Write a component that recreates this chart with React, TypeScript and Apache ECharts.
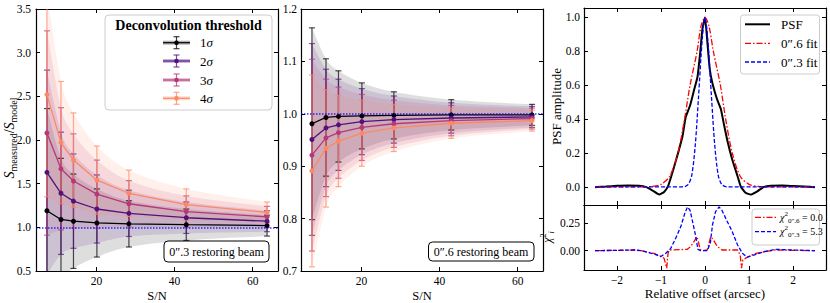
import React, { useEffect, useRef } from "react";
import * as echarts from "echarts";

const FONT = "'Liberation Serif', 'Times New Roman', serif";

// ---- Data: flux ratio vs S/N ----
const SN = [7.3, 10.9, 14.1, 20.1, 28.3, 43.0, 63.7];
const THRESHOLDS = ["1", "2", "3", "4"];
const COLORS = ["#000004", "#51127c", "#b73779", "#fc8961"];

// 0.3" restoring beam (left panel)
const LEFT_1 = [1.19, 1.09, 1.07, 1.05, 1.04, 1.03, 1.02];
const LEFT_2 = [1.63, 1.39, 1.3, 1.21, 1.16, 1.11, 1.07];
const LEFT_3 = [2.08, 1.67, 1.53, 1.38, 1.27, 1.18, 1.12];
const LEFT_4 = [2.52, 1.97, 1.77, 1.54, 1.39, 1.26, 1.17];
const LEFT_ERR = [1.17, 0.7, 0.54, 0.39, 0.265, 0.18, 0.12];

// 0.6" restoring beam (middle panel)
const MID_1 = [0.981, 0.993, 0.995, 0.996, 0.997, 0.998, 0.998];
const MID_2 = [0.951, 0.973, 0.979, 0.985, 0.989, 0.992, 0.994];
const MID_3 = [0.921, 0.954, 0.964, 0.974, 0.981, 0.987, 0.991];
const MID_4 = [0.891, 0.934, 0.948, 0.963, 0.973, 0.982, 0.987];
const MID_ERR = [0.183, 0.112, 0.087, 0.063, 0.045, 0.029, 0.02];

// ---- PSF profile (right top) ----
const PSF_X = [-2.5, -2.25, -2.0, -1.75, -1.5, -1.35, -1.2, -1.04, -0.93, -0.84, -0.77, -0.7, -0.59, -0.51, -0.44, -0.34, -0.25, -0.17, -0.11, -0.06, 0.0, 0.055, 0.11, 0.17, 0.27, 0.36, 0.43, 0.52, 0.62, 0.74, 0.81, 0.92, 1.04, 1.19, 1.34, 1.5, 1.75, 2.0, 2.25, 2.5];
const PSF_Y = [-0.002, 0.002, 0.006, 0.008, 0.006, 0.0, -0.02, -0.045, -0.03, 0.004, 0.06, 0.12, 0.22, 0.3, 0.41, 0.48, 0.57, 0.65, 0.79, 0.93, 1.0, 0.85, 0.69, 0.61, 0.52, 0.46, 0.37, 0.26, 0.16, 0.063, 0.004, -0.035, -0.045, -0.026, 0.0, 0.007, 0.008, 0.005, 0.002, -0.002];

const FIT06_X = [-2.5, -1.5, -1.2, -1.0, -0.8, -0.615, -0.465, -0.34, -0.18, -0.09, 0.0, 0.09, 0.19, 0.35, 0.47, 0.62, 0.8, 1.0, 1.2, 1.5, 2.5];
const FIT06_Y = [0, 0, 0.003, 0.015, 0.063, 0.2, 0.4, 0.6, 0.8, 0.95, 1.0, 0.95, 0.8, 0.6, 0.4, 0.2, 0.063, 0.015, 0.003, 0, 0];

const FIT03_X = [-2.5, -1.5, -0.8, -0.5, -0.38, -0.3, -0.22, -0.15, -0.06, 0.0, 0.06, 0.15, 0.22, 0.3, 0.38, 0.5, 0.8, 1.5, 2.5];
const FIT03_Y = [0, 0, 0, 0, 0.015, 0.07, 0.25, 0.52, 0.88, 1.0, 0.88, 0.52, 0.25, 0.07, 0.015, 0, 0, 0, 0];

// ---- chi^2 residuals (right bottom) ----
const CHI06_X = [-2.5, -2.0, -1.6, -1.46, -1.16, -1.01, -0.93, -0.87, -0.84, -0.81, -0.4, -0.33, -0.25, -0.19, -0.16, -0.11, -0.06, 0.05, 0.09, 0.13, 0.19, 0.28, 0.39, 0.74, 0.8, 0.83, 0.86, 0.96, 1.11, 1.34, 1.6, 2.0, 2.5];
const CHI06_Y = [0, 0.003, 0.006, 0.0, -0.025, -0.05, -0.07, -0.16, -0.024, 0.006, 0.012, 0.037, 0.082, 0.128, 0.1, 0.012, 0.0, 0.006, 0.067, 0.128, 0.1, 0.037, 0.006, 0.006, -0.04, -0.16, -0.085, -0.06, -0.03, -0.01, 0.006, 0.003, 0];

const CHI03_X = [-2.5, -2.0, -1.6, -1.46, -1.3, -1.16, -1.01, -0.89, -0.78, -0.67, -0.55, -0.46, -0.4, -0.34, -0.29, -0.21, -0.16, -0.1, 0.05, 0.12, 0.17, 0.24, 0.32, 0.39, 0.49, 0.62, 0.74, 0.85, 0.96, 1.11, 1.34, 1.6, 2.0, 2.5];
const CHI03_Y = [0, 0.003, 0.006, 0.0, -0.015, -0.03, -0.055, -0.024, 0.02, 0.11, 0.22, 0.34, 0.4, 0.37, 0.28, 0.13, 0.012, 0.0, 0.0, 0.067, 0.235, 0.357, 0.4, 0.366, 0.28, 0.174, 0.052, -0.024, -0.06, -0.04, -0.01, 0.012, 0.006, 0];

// ---- Tick labels ----
const SN_TICKS = [20, 40, 60];
const LEFT_Y_TICKS = [0.5, 1.0, 1.5, 2.0, 2.5, 3.0, 3.5];
const MID_Y_TICKS = [0.7, 0.8, 0.9, 1.0, 1.1, 1.2];
const OFFSET_TICKS = [-2, -1, 0, 1, 2];
const PSF_TICKS = [0, 0.2, 0.4, 0.6, 0.8, 1.0];
const CHI_TICKS = [0, 0.25];

const zip = (xs: number[], ys: number[]) => xs.map((x, i) => [x, ys[i]]);
const minus = (v: number) => (v < 0 ? "\u2212" + Math.abs(v) : String(v));

// Catmull-Rom smoothing in pixel space (rendering only)
function spline(pts: number[][], segs = 10): number[][] {
  const out: number[][] = [];
  const n = pts.length;
  for (let i = 0; i < n - 1; i++) {
    const p0 = pts[Math.max(i - 1, 0)];
    const p1 = pts[i];
    const p2 = pts[i + 1];
    const p3 = pts[Math.min(i + 2, n - 1)];
    const m1 = [(p2[0] - p0[0]) / 2, (p2[1] - p0[1]) / 2];
    const m2 = [(p3[0] - p1[0]) / 2, (p3[1] - p1[1]) / 2];
    for (let s = 0; s < segs; s++) {
      const t = s / segs;
      const t2 = t * t;
      const t3 = t2 * t;
      const h00 = 2 * t3 - 3 * t2 + 1;
      const h10 = t3 - 2 * t2 + t;
      const h01 = -2 * t3 + 3 * t2;
      const h11 = t3 - t2;
      out.push([
        h00 * p1[0] + h10 * m1[0] + h01 * p2[0] + h11 * m2[0],
        h00 * p1[1] + h10 * m1[1] + h01 * p2[1] + h11 * m2[1],
      ]);
    }
  }
  out.push(pts[n - 1]);
  return out;
}

function axis(
  gridIndex: number,
  position: string,
  min: number,
  max: number,
  ticks: number[],
  showLabel: boolean,
  fmt?: (v: number) => string,
  margin = 4,
  extra: any = {}
) {
  return {
    type: "value",
    gridIndex,
    position,
    min,
    max,
    nameMoveOverlap: false,
    axisLine: { show: true, onZero: false, lineStyle: { color: "#000", width: 1.2 } },
    axisTick: { show: true, inside: true, length: 4, lineStyle: { color: "#000", width: 1 }, customValues: ticks },
    axisLabel: {
      show: showLabel,
      customValues: ticks,
      formatter: fmt,
      fontFamily: FONT,
      fontSize: 11.5,
      color: "#000",
      margin,
    },
    splitLine: { show: false },
    ...extra,
  };
}

function buildOption() {
  const series: any[] = [];
  const panels = [
    { xi: 0, yi: 0, values: [LEFT_1, LEFT_2, LEFT_3, LEFT_4], err: LEFT_ERR },
    { xi: 2, yi: 2, values: [MID_1, MID_2, MID_3, MID_4], err: MID_ERR },
  ];
  panels.forEach((p) => {
    // shaded uncertainty bands
    p.values.forEach((vals, k) => {
      series.push({
        type: "custom",
        xAxisIndex: p.xi,
        yAxisIndex: p.yi,
        silent: true,
        z: 1,
        encode: { x: 0, y: [1, 2] },
        data: SN.map((s, i) => [s, vals[i] - p.err[i], vals[i] + p.err[i]]),
        renderItem: (params: any, api: any) => {
          if (params.dataIndexInside !== 0) return null;
          const n = params.dataInsideLength;
          const cs = params.coordSys;
          const top = cs.y;
          const bot = cs.y + cs.height;
          const up: number[][] = [];
          const lo: number[][] = [];
          for (let j = 0; j < n; j++) {
            const x = api.value(0, j);
            up.push(api.coord([x, api.value(2, j)]));
            lo.push(api.coord([x, api.value(1, j)]));
          }
          const clampPt = (q: number[]) => [q[0], Math.min(Math.max(q[1], top), bot)];
          const pts = spline(up).map(clampPt).concat(spline(lo).reverse().map(clampPt));
          return {
            type: "polygon",
            shape: { points: pts },
            style: { fill: COLORS[k], opacity: 0.13 },
          };
        },
      });
    });
    // error bars
    p.values.forEach((vals, k) => {
      series.push({
        type: "custom",
        xAxisIndex: p.xi,
        yAxisIndex: p.yi,
        silent: true,
        z: 2,
        encode: { x: 0, y: [1, 2] },
        data: SN.map((s, i) => [s, vals[i] - p.err[i], vals[i] + p.err[i]]),
        renderItem: (params: any, api: any) => {
          const x = api.value(0);
          const a = api.coord([x, api.value(2)]);
          const b = api.coord([x, api.value(1)]);
          const cs = params.coordSys;
          const top = cs.y;
          const bot = cs.y + cs.height;
          const y1 = Math.max(a[1], top);
          const y2 = Math.min(b[1], bot);
          const style = { stroke: COLORS[k], lineWidth: 1.2, opacity: 0.7 };
          const children: any[] = [];
          if (y2 > y1) children.push({ type: "line", shape: { x1: a[0], y1, x2: a[0], y2 }, style });
          if (a[1] >= top && a[1] <= bot)
            children.push({ type: "line", shape: { x1: a[0] - 3, y1: a[1], x2: a[0] + 3, y2: a[1] }, style });
          if (b[1] >= top && b[1] <= bot)
            children.push({ type: "line", shape: { x1: b[0] - 3, y1: b[1], x2: b[0] + 3, y2: b[1] }, style });
          return { type: "group", children };
        },
      });
    });
    // measurement lines
    p.values.forEach((vals, k) => {
      const s: any = {
        type: "line",
        xAxisIndex: p.xi,
        yAxisIndex: p.yi,
        name: THRESHOLDS[k] + "σ",
        symbol: "circle",
        symbolSize: 5,
        silent: true,
        lineStyle: { color: COLORS[k], width: 1.3 },
        itemStyle: { color: COLORS[k] },
        data: zip(SN, vals),
        z: 3,
      };
      if (k === 0) {
        s.markLine = {
          silent: true,
          symbol: ["none", "none"],
          label: { show: false },
          lineStyle: { color: "#0000ff", type: [1.5, 1.5], width: 1.5, opacity: 0.8 },
          data: [{ yAxis: 1 }],
        };
      }
      series.push(s);
    });
  });

  series.push(
    {
      type: "line", name: "PSF", xAxisIndex: 4, yAxisIndex: 4, symbol: "none", smooth: 0.15, silent: true,
      lineStyle: { color: "#000", width: 2 }, data: zip(PSF_X, PSF_Y), z: 3,
    },
    {
      type: "line", name: "0.6 fit", xAxisIndex: 4, yAxisIndex: 4, symbol: "none", smooth: 0.3, silent: true,
      lineStyle: { color: "#ff0000", width: 1.3, type: [6, 2, 1.5, 2] }, data: zip(FIT06_X, FIT06_Y), z: 4,
    },
    {
      type: "line", name: "0.3 fit", xAxisIndex: 4, yAxisIndex: 4, symbol: "none", smooth: 0.3, silent: true,
      lineStyle: { color: "#0000ff", width: 1.3, type: [4, 2] }, data: zip(FIT03_X, FIT03_Y), z: 5,
    },
    {
      type: "line", name: "chi06", xAxisIndex: 6, yAxisIndex: 6, symbol: "none", silent: true,
      lineStyle: { color: "#ff0000", width: 1.3, type: [6, 2, 1.5, 2] }, data: zip(CHI06_X, CHI06_Y), z: 4,
    },
    {
      type: "line", name: "chi03", xAxisIndex: 6, yAxisIndex: 6, symbol: "none", silent: true,
      lineStyle: { color: "#0000ff", width: 1.3, type: [4, 2] }, data: zip(CHI03_X, CHI03_Y), z: 5,
    }
  );

  const nameStyle = { fontFamily: FONT, fontSize: 13, color: "#000" };
  const SNMIN = 4.5;
  const SNMAX = 66.5;

  const xAxis = [
    axis(0, "bottom", SNMIN, SNMAX, SN_TICKS, true, (v) => String(v), 4, {
      name: "S/N", nameLocation: "middle", nameGap: 18, nameTextStyle: { ...nameStyle, fontSize: 12.5, lineHeight: 13 },
    }),
    axis(0, "top", SNMIN, SNMAX, SN_TICKS, false),
    axis(1, "bottom", SNMIN, SNMAX, SN_TICKS, true, (v) => String(v), 4, {
      name: "S/N", nameLocation: "middle", nameGap: 18, nameTextStyle: { ...nameStyle, fontSize: 12.5, lineHeight: 13 },
    }),
    axis(1, "top", SNMIN, SNMAX, SN_TICKS, false),
    axis(2, "bottom", -2.75, 2.75, OFFSET_TICKS, false),
    axis(2, "top", -2.75, 2.75, OFFSET_TICKS, false),
    axis(3, "bottom", -2.75, 2.75, OFFSET_TICKS, true, minus, 4, {
      name: "Relative offset (arcsec)", nameLocation: "middle", nameGap: 17, nameTextStyle: { ...nameStyle, lineHeight: 13 },
    }),
    axis(3, "top", -2.75, 2.75, OFFSET_TICKS, false),
  ];
  const yAxis = [
    axis(0, "left", 0.5, 3.5, LEFT_Y_TICKS, true, (v) => v.toFixed(1), 5),
    axis(0, "right", 0.5, 3.5, LEFT_Y_TICKS, false),
    axis(1, "left", 0.7, 1.2, MID_Y_TICKS, true, (v) => v.toFixed(1), 4),
    axis(1, "right", 0.7, 1.2, MID_Y_TICKS, false),
    axis(2, "left", -0.107, 1.056, PSF_TICKS, true, (v) => v.toFixed(1), 4, {
      name: "PSF amplitude", nameLocation: "middle", nameGap: 21, nameTextStyle: nameStyle,
    }),
    axis(2, "right", -0.107, 1.056, PSF_TICKS, false),
    axis(3, "left", -0.177, 0.418, CHI_TICKS, true, (v) => v.toFixed(2), 4),
    axis(3, "right", -0.177, 0.418, CHI_TICKS, false),
  ];

  const richBase = { fontFamily: FONT, fill: "#000" };
  const legendRows = [42.7, 61, 80, 98.3];
  const leftLegend: any[] = [
    {
      type: "rect", shape: { x: 105, y: 15, width: 167, height: 95, r: 4 },
      style: { fill: "rgba(255,255,255,0.85)", stroke: "#cccccc", lineWidth: 1 },
    },
    {
      type: "text", x: 188.5, y: 25,
      style: { text: "Deconvolution threshold", font: `bold 14px ${FONT}`, fill: "#000", align: "center", verticalAlign: "middle" },
    },
  ];
  THRESHOLDS.forEach((t, k) => {
    const y = legendRows[k];
    const c = COLORS[k];
    leftLegend.push(
      { type: "line", shape: { x1: 163, y1: y, x2: 190, y2: y }, style: { stroke: c, lineWidth: 4, opacity: 0.3 } },
      { type: "line", shape: { x1: 163, y1: y, x2: 190, y2: y }, style: { stroke: c, lineWidth: 1.2 } },
      { type: "line", shape: { x1: 176.5, y1: y - 6, x2: 176.5, y2: y + 6 }, style: { stroke: c, lineWidth: 1.2, opacity: 0.75 } },
      { type: "line", shape: { x1: 173.5, y1: y - 6, x2: 179.5, y2: y - 6 }, style: { stroke: c, lineWidth: 1.2, opacity: 0.75 } },
      { type: "line", shape: { x1: 173.5, y1: y + 6, x2: 179.5, y2: y + 6 }, style: { stroke: c, lineWidth: 1.2, opacity: 0.75 } },
      { type: "circle", shape: { cx: 176.5, cy: y, r: 2.3 }, style: { fill: c } },
      {
        type: "text", x: 200, y,
        style: {
          text: `{n|${t}}{s|σ}`, align: "left", verticalAlign: "middle",
          rich: { n: { ...richBase, fontSize: 13 }, s: { ...richBase, fontSize: 13, fontStyle: "italic" } },
        },
      }
    );
  });

  const psfLegend: any[] = [
    {
      type: "rect", shape: { x: 740.5, y: 15, width: 79, height: 59, r: 3 },
      style: { fill: "rgba(255,255,255,0.85)", stroke: "#cccccc", lineWidth: 1 },
    },
    { type: "line", shape: { x1: 745, y1: 24.3, x2: 770, y2: 24.3 }, style: { stroke: "#000", lineWidth: 2 } },
    { type: "line", shape: { x1: 745, y1: 43.3, x2: 770, y2: 43.3 }, style: { stroke: "#ff0000", lineWidth: 1.3, lineDash: [6, 2, 1.5, 2] } },
    { type: "line", shape: { x1: 745, y1: 62, x2: 770, y2: 62 }, style: { stroke: "#0000ff", lineWidth: 1.3, lineDash: [4, 2] } },
    { type: "text", x: 781, y: 24.3, style: { text: "PSF", font: `13px ${FONT}`, fill: "#000", verticalAlign: "middle" } },
    { type: "text", x: 781, y: 43.3, style: { text: "0\u2033.6 fit", font: `13px ${FONT}`, fill: "#000", verticalAlign: "middle" } },
    { type: "text", x: 781, y: 62, style: { text: "0\u2033.3 fit", font: `13px ${FONT}`, fill: "#000", verticalAlign: "middle" } },
  ];

  const chiRich = {
    i: { ...richBase, fontSize: 10, fontStyle: "italic", lineHeight: 14, verticalAlign: "middle" },
    p: { ...richBase, fontSize: 7, lineHeight: 7, verticalAlign: "top" },
    b: { ...richBase, fontSize: 7, lineHeight: 7, verticalAlign: "bottom" },
    n: { ...richBase, fontSize: 10, lineHeight: 14, verticalAlign: "middle" },
  };
  const chiLegend: any[] = [
    {
      type: "rect", shape: { x: 752, y: 209, width: 67.5, height: 36, r: 3 },
      style: { fill: "rgba(255,255,255,0.85)", stroke: "#cccccc", lineWidth: 1 },
    },
    { type: "line", shape: { x1: 755, y1: 217.3, x2: 776, y2: 217.3 }, style: { stroke: "#ff0000", lineWidth: 1.3, lineDash: [6, 2, 1.5, 2] } },
    { type: "line", shape: { x1: 755, y1: 231.7, x2: 776, y2: 231.7 }, style: { stroke: "#0000ff", lineWidth: 1.3, lineDash: [4, 2] } },
    {
      type: "text", x: 780, y: 217.3,
      style: { text: "{i|χ}{p|2}{b|0\u2033.6}{n| = 0.0}", verticalAlign: "middle", rich: chiRich },
    },
    {
      type: "text", x: 780, y: 231.7,
      style: { text: "{i|χ}{p|2}{b|0\u2033.3}{n| = 5.3}", verticalAlign: "middle", rich: chiRich },
    },
  ];

  const beamBoxes: any[] = [
    {
      type: "rect", shape: { x: 164, y: 241, width: 105, height: 21, r: 4 },
      style: { fill: "#fff", stroke: "#000", lineWidth: 1 },
    },
    {
      type: "text", x: 216.5, y: 251.5,
      style: { text: "0\u2033.3 restoring beam", font: `12px ${FONT}`, fill: "#000", align: "center", verticalAlign: "middle" },
    },
    {
      type: "rect", shape: { x: 428.5, y: 242, width: 105.5, height: 19, r: 4 },
      style: { fill: "#fff", stroke: "#000", lineWidth: 1 },
    },
    {
      type: "text", x: 481, y: 251.5,
      style: { text: "0\u2033.6 restoring beam", font: `12px ${FONT}`, fill: "#000", align: "center", verticalAlign: "middle" },
    },
  ];

  const yLabels: any[] = [
    {
      type: "text", x: 9, y: 138, rotation: Math.PI / 2,
      style: {
        text: "{i|S}{s|measured}{n|/}{i|S}{s|model}", align: "center", verticalAlign: "middle",
        rich: {
          i: { ...richBase, fontSize: 14, fontStyle: "italic", lineHeight: 19, verticalAlign: "middle" },
          n: { ...richBase, fontSize: 14, lineHeight: 19, verticalAlign: "middle" },
          s: { ...richBase, fontSize: 10, lineHeight: 11, verticalAlign: "bottom" },
        },
      },
    },
    {
      type: "text", x: 547, y: 237, rotation: Math.PI / 2,
      style: {
        text: "{i|χ}{p|2}{b|i}", align: "center", verticalAlign: "middle",
        rich: {
          i: { ...richBase, fontSize: 12, fontStyle: "italic", lineHeight: 16, verticalAlign: "middle" },
          p: { ...richBase, fontSize: 8, lineHeight: 8, verticalAlign: "top" },
          b: { ...richBase, fontSize: 8, lineHeight: 8, verticalAlign: "bottom", fontStyle: "italic" },
        },
      },
    },
  ];

  return {
    animation: false,
    backgroundColor: "#fff",
    textStyle: { fontFamily: FONT },
    grid: [
      { left: 36, top: 9, width: 242, height: 262, containLabel: false, outerBoundsMode: "none" },
      { left: 301, top: 9, width: 242, height: 262, containLabel: false, outerBoundsMode: "none" },
      { left: 584, top: 8, width: 242, height: 197, containLabel: false, outerBoundsMode: "none" },
      { left: 584, top: 205, width: 242, height: 65, containLabel: false, outerBoundsMode: "none" },
    ],
    xAxis,
    yAxis,
    series,
    graphic: [...leftLegend, ...psfLegend, ...chiLegend, ...beamBoxes, ...yLabels].map((g) => ({ ...g, z: 100 })),
  };
}

export default function App() {
  const ref = useRef<HTMLDivElement>(null);
  useEffect(() => {
    if (!ref.current) return;
    const chart = echarts.init(ref.current, undefined, { renderer: "svg" });
    chart.setOption(buildOption() as any);
    return () => chart.dispose();
  }, []);
  return <div ref={ref} style={{ position: "absolute", left: 0, top: 0, width: 830, height: 303 }} />;
}
